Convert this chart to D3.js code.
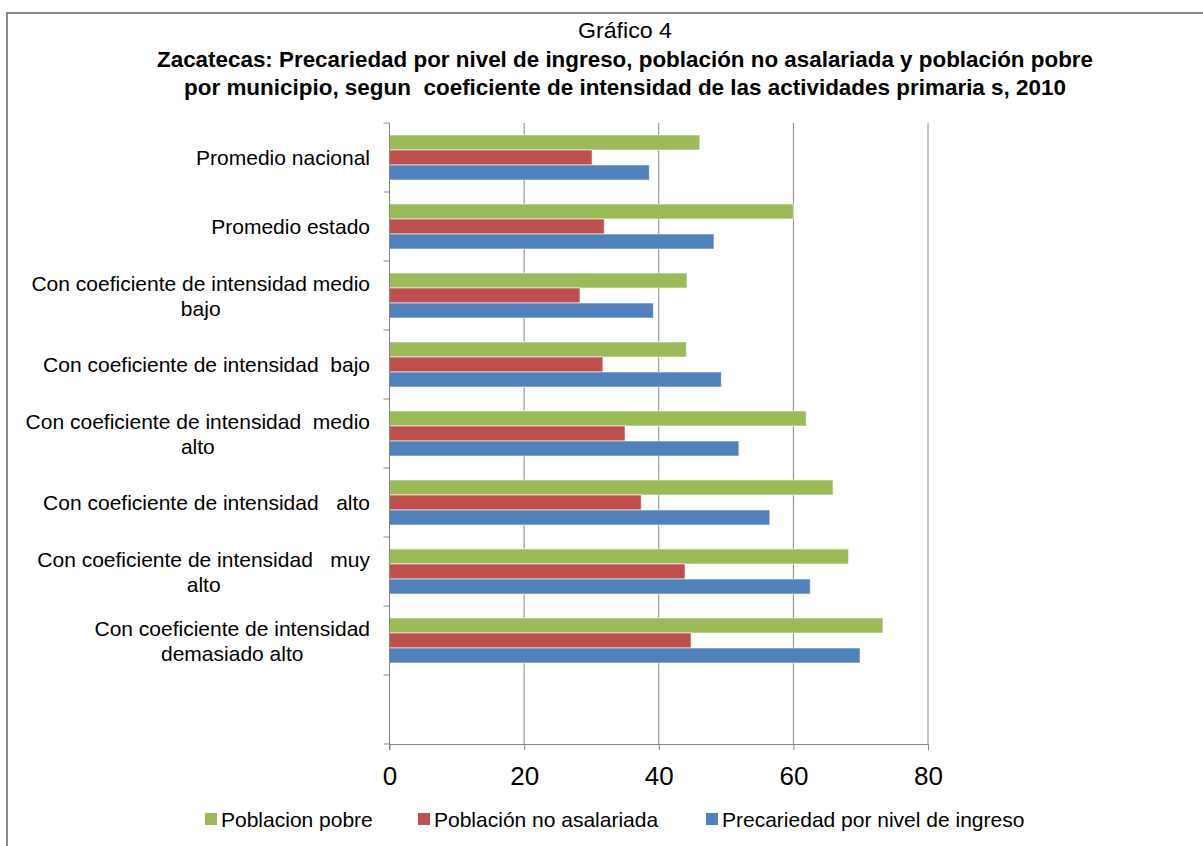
<!DOCTYPE html>
<html><head><meta charset="utf-8">
<script src="https://cdn.jsdelivr.net/npm/d3@7"></script>
<style>
html,body{margin:0;padding:0;background:#fff;}
svg{display:block;font-family:"Liberation Sans",Arial,sans-serif;}
</style></head><body>
<svg id="c" width="1203" height="846"></svg>
<script>
const categories = [
  ["Promedio nacional"],
  ["Promedio estado"],
  ["Con coeficiente de intensidad medio","bajo"],
  ["Con coeficiente de intensidad  bajo"],
  ["Con coeficiente de intensidad  medio","alto"],
  ["Con coeficiente de intensidad   alto"],
  ["Con coeficiente de intensidad   muy","alto"],
  ["Con coeficiente de intensidad","demasiado alto"],
  [""]
];
const seriesNames = ["Poblacion pobre","Población no asalariada","Precariedad por nivel de ingreso"];
const pobre =       [46.1, 60.0, 44.2, 44.1, 61.9, 65.9, 68.2, 73.3, null];
const noAsalariada = [30.1, 31.9, 28.3, 31.7, 35.0, 37.4, 43.9, 44.8, null];
const precariedad = [38.6, 48.2, 39.2, 49.3, 51.9, 56.5, 62.5, 69.9, null];
const xTicks = [0, 20, 40, 60, 80];
const colors = ["#9BBB59", "#C0504D", "#4F81BD"];
const titleLines = ["Gráfico 4",
  "Zacatecas: Precariedad por nivel de ingreso, población no asalariada y población pobre",
  "por municipio, segun  coeficiente de intensidad de las actividades primaria s, 2010"];

const svg = d3.select("#c");
// outer frame
svg.append("rect").attr("x",7).attr("y",13).attr("width",1210).attr("height",850)
  .attr("fill","#fff").attr("stroke","#888").attr("stroke-width",2);

// title
const tY = [30, 59, 87];
const tLen = [94, 936, 882];
titleLines.forEach((t,i)=>{
  svg.append("text").attr("x",625).attr("y",tY[i]).attr("text-anchor","middle")
    .attr("dominant-baseline","central")
    .attr("font-size", 22).attr("font-weight", i===0 ? "normal" : "bold")
    .attr("fill","#000").style("white-space","pre")
    .attr("textLength", tLen[i])
    .attr("lengthAdjust","spacingAndGlyphs")
    .text(t);
});

const L = 389.5, R = 928, T = 123, B = 744;
const x = d3.scaleLinear().domain([0,80]).range([L,R]);
const y = d3.scaleBand().domain(d3.range(categories.length)).range([T,B]).padding(0);
const inner = d3.scaleBand().domain([0,1,2]).range([12, y.bandwidth()-12]).padding(0);

// gridlines
svg.append("g").selectAll("line").data(xTicks.slice(1)).join("line")
  .attr("x1",d=>x(d)).attr("x2",d=>x(d)).attr("y1",T).attr("y2",B)
  .attr("stroke","#868686").attr("stroke-width",1);

// bars
const series = [pobre, noAsalariada, precariedad];
series.forEach((vals,si)=>{
  svg.append("g").selectAll("rect").data(vals.map((v,i)=>({v,i})).filter(d=>d.v!=null)).join("rect")
    .attr("x",x(0)).attr("y",d=>y(d.i)+inner(si))
    .attr("width",d=>x(d.v)-x(0)).attr("height",inner.bandwidth())
    .attr("fill",colors[si]).attr("stroke","#fff").attr("stroke-opacity",0.6).attr("stroke-width",1);
});

// y axis
const yAxis = svg.append("g");
yAxis.append("line").attr("x1",L).attr("x2",L).attr("y1",T).attr("y2",B+6).attr("stroke","#868686");
yAxis.selectAll("line.t").data(d3.range(categories.length+1)).join("line").attr("class","t")
  .attr("x1",L-6).attr("x2",L).attr("y1",d=>T+d*y.bandwidth()).attr("y2",d=>T+d*y.bandwidth())
  .attr("stroke","#868686");

// x axis
const xAxisG = svg.append("g").attr("transform",`translate(0,${B})`)
  .call(d3.axisBottom(x).tickValues(xTicks).tickSize(6).tickSizeOuter(0));
xAxisG.select(".domain").attr("stroke","#868686");
xAxisG.selectAll(".tick line").attr("stroke","#868686");
xAxisG.selectAll(".tick text").attr("font-size",26).attr("fill","#000")
  .attr("font-family","Liberation Sans, Arial, sans-serif").attr("dy",0).attr("y",32)
  .attr("dominant-baseline","central");

// category labels
const labelRight = 370;
categories.forEach((lines,i)=>{
  const cy = y(i) + y.bandwidth()/2;
  const g = svg.append("g");
  const texts = lines.map((t,j)=> g.append("text").attr("font-size",21).attr("fill","#000")
      .style("white-space","pre").attr("dominant-baseline","central").text(t));
  const widths = texts.map(t=>t.node().getComputedTextLength());
  const maxW = Math.max(...widths);
  const lh = 25;
  texts.forEach((t,j)=>{
    t.attr("text-anchor","middle").attr("x", labelRight - maxW/2)
     .attr("y", cy + (j - (lines.length-1)/2)*lh);
  });
});

// legend
const legX = [205, 418, 706];
const leg = svg.append("g");
seriesNames.forEach((n,i)=>{
  leg.append("rect").attr("x",legX[i]).attr("y",813).attr("width",12).attr("height",12).attr("fill",colors[i]);
  leg.append("text").attr("x",legX[i]+16).attr("y",819).attr("dominant-baseline","central")
    .attr("font-size",21).attr("fill","#000").text(n);
});
</script>
</body></html>
